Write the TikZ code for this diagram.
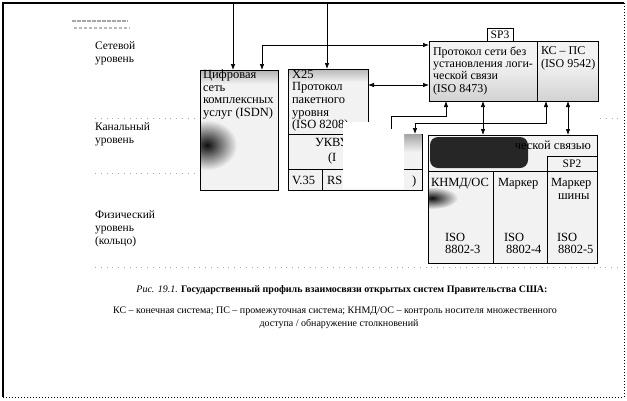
\documentclass[tikz,border=0pt]{standalone}
\usepackage{fontspec}
\setmainfont{Liberation Serif}
\usetikzlibrary{arrows.meta}
\begin{document}
\begin{tikzpicture}[x=1pt,y=-1pt,
  every node/.style={inner sep=0pt,outer sep=0pt},
  box/.style={draw,line width=0.9pt,fill=gray!10,anchor=north west},
  boxtxt/.style={font=\fontsize{12.5}{12.6}\selectfont,align=left,anchor=north west},
  prtxt/.style={font=\fontsize{12}{12.2}\selectfont,align=left,anchor=north west},
  celltxt/.style={font=\fontsize{12.5}{12.6}\selectfont,anchor=base west},
  lvl/.style={font=\fontsize{11.5}{12.8}\selectfont,align=left,anchor=north west},
  lev/.style={gray!70,line width=0.8pt,dash pattern=on 0.8pt off 5pt},
  captxt/.style={font=\fontsize{10}{11}\selectfont},
  arr/.style={-{Latex[length=6pt,width=4.5pt]},line width=0.7pt},
  arrb/.style={{Latex[length=6pt,width=4.5pt]}-{Latex[length=6pt,width=4.5pt]},line width=0.7pt},
  arrs/.style={{Latex[length=6pt,width=4.5pt]}-,line width=0.7pt}]
\useasboundingbox (0,0) rectangle (627,400);
\fill[white] (0,0) rectangle (627,400);
% frame
\draw[line width=1.3pt] (3,397) -- (3,3) -- (624,3);
\draw[line width=1pt,dotted] (624,3) -- (624,397) -- (3,397);
% smudge at top left
\draw[gray!70,line width=1.6pt,dash pattern=on 4pt off 1pt] (72,21) -- (128,21);
\draw[gray!55,line width=1.4pt,dash pattern=on 3pt off 2pt] (74,28) -- (130,28);
% level labels
\node[lvl] (lnet) at (95,42) {Сетевой\\уровень};
\node[lvl] (lchan) at (95,123) {Канальный\\уровень};
\node[lvl] (lphys) at (95,211) {Физический\\уровень\\(кольцо)};
\draw[lev] (95,118) -- (197,118);
\draw[lev] (600,118) -- (618,118);
\draw[lev] (95,173) -- (198,173);
\draw[lev] (95,267) -- (618,267);
% ISDN
\node[box,minimum width=78pt,minimum height=120pt] (isdn) at (200,70) {};
\begin{scope}
\clip (isdn.north west) rectangle (isdn.south east);
\shade[top color=gray!60,bottom color=gray!10] (200,70) rectangle (278,84);
\shade[inner color=black!95,outer color=gray!10] (207,145) ellipse [x radius=30pt,y radius=25pt];
\end{scope}
\draw[line width=0.9pt] (isdn.north west) rectangle (isdn.south east);
\node[boxtxt] (isdnt) at (203,70) {Цифровая\\сеть\\комплексных\\услуг (ISDN)};
% X25
\node[box,minimum width=80pt,minimum height=65pt] (x25) at (288,69) {};
\shade[top color=gray!55,bottom color=gray!10] (288.5,69.5) rectangle (367.5,82);
\draw[line width=0.9pt] (x25.north west) rectangle (x25.south east);
\node[boxtxt] (x25t) at (292,70) {X25\\Протокол\\пакетного\\уровня\\(ISO 8208)};
\node[box,minimum width=134pt,minimum height=35pt] (ukv) at (288,134) {};
\node[box,minimum width=134pt,minimum height=21pt] (phy) at (288,169) {};
\draw[line width=0.9pt] (322,169) -- (322,190);
\shade[top color=gray!70,bottom color=gray!10] (404,134.5) rectangle (421.5,152);
\node[celltxt] (ukvt) at (315,146) {УКВУ};
\node[celltxt] (ukvi) at (328,161) {(I};
\node[celltxt] (v35) at (292,184) {V.35};
\node[celltxt] (rs) at (327,184) {RS};
\node[celltxt] (rp) at (412,184) {)};
% white patch
\fill[white] (343,122) -- (386,122) -- (386,129) -- (404,129) -- (404,188.5) -- (343,188.5) -- cycle;
% protocol box
\node[box,minimum width=108pt,minimum height=60pt] (protol) at (429,41) {};
\node[box,minimum width=61pt,minimum height=60pt] (protor) at (537,41) {};
\shade[top color=gray!8,bottom color=gray!35] (429.5,60) rectangle (597.5,100.5);
\draw[line width=0.9pt] (protol.north west) rectangle (protor.south east);
\draw[line width=0.9pt] (protol.north east) -- (protol.south east);
\node[box,fill=white,minimum width=26pt,minimum height=13pt,font=\fontsize{11.5}{12}\selectfont] (sp3) at (487,28) {SP3};
\node[prtxt] (protolt) at (433,47) {Протокол сети без\\установления логи-\\ческой связи\\(ISO 8473)};
\node[prtxt] (protort) at (541,47) {КС – ПС\\(ISO 9542)};
% LLC / MAC box
\node[box,minimum width=169pt,minimum height=128pt] (llc) at (428,135) {};
\fill[black!85,rounded corners=8pt] (430,137) rectangle (528,168);
\begin{scope}
\clip (llc.north west) rectangle (493,263);
\shade[inner color=black!95,outer color=gray!10] (432,198) ellipse [x radius=26pt,y radius=11pt];
\end{scope}
\draw[line width=0.9pt] (llc.north west) rectangle (llc.south east);
\draw[line width=0.9pt] (428,171) -- (597,171);
\draw[line width=0.9pt] (493,171) -- (493,263);
\draw[line width=0.9pt] (547,171) -- (547,263);
\node[box,minimum width=50pt,minimum height=15pt,font=\fontsize{11.5}{12}\selectfont] (sp2) at (547,156) {SP2};
\node[celltxt,anchor=base east] (llct) at (591,149) {ческой связью};
\node[celltxt] (knmd) at (431,186) {КНМД/ОС};
\node[celltxt] (mark1) at (498,186) {Маркер};
\node[celltxt] (mark2) at (551,186) {Маркер};
\node[celltxt] (shiny) at (558,199) {шины};
\node[celltxt] (iso3a) at (445,241) {ISO};
\node[celltxt] (iso3b) at (445,253) {8802-3};
\node[celltxt] (iso4a) at (504,241) {ISO};
\node[celltxt] (iso4b) at (506,253) {8802-4};
\node[celltxt] (iso5a) at (557,241) {ISO};
\node[celltxt] (iso5b) at (558,253) {8802-5};
% connectors
\coordinate (a1) at (233,4);
\draw[arr] (a1) -- (a1 |- isdn.north);
\coordinate (a2) at (327,4);
\draw[arr] (a2) -- (a2 |- x25.north);
\coordinate (a3) at (262,45);
\draw[arrb] (a3 |- isdn.north) -- (a3) -- (a3 -| protol.west);
\coordinate (a4) at (0,85);
\draw[arrb] (x25.east |- a4) -- (protol.west |- a4);
\coordinate (a5) at (446,116);
\coordinate (a5e) at (391,129);
\draw[arrs] (a5 |- protol.south) -- (a5) -- (a5 -| a5e) -- (a5e);
\coordinate (a6) at (546,123);
\coordinate (a6e) at (415,0);
\draw[arrb] (a6 |- protor.south) -- (a6) -- (a6 -| a6e) -- (a6e |- ukv.north);
\coordinate (a7) at (483,0);
\draw[arrb] (a7 |- protol.south) -- (a7 |- llc.north);
\coordinate (a8) at (568,0);
\draw[arrb] (a8 |- protor.south) -- (a8 |- llc.north);
% caption
\node[captxt] (cap1) at (342,290) {\textit{Рис. 19.1.} \textbf{Государственный профиль взаимосвязи открытых систем Правительства США:}};
\node[captxt] (cap2) at (335,311) {КС – конечная система; ПС – промежуточная система; КНМД/ОС – контроль носителя множественного};
\node[captxt] (cap3) at (339,324) {доступа / обнаружение столкновений};
\end{tikzpicture}
\end{document}
